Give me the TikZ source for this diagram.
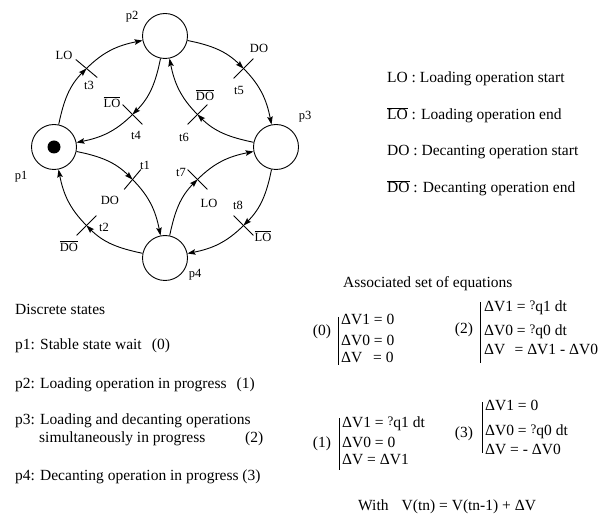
\documentclass[tikz,border=0pt]{standalone}
\usepackage{fontspec}
\setmainfont{Liberation Serif}
\usetikzlibrary{arrows.meta}
\newcommand{\ovl}[1]{$\overline{\hbox{#1}}$}
\newcommand{\qm}{{\fontsize{13}{13}\selectfont\raisebox{2pt}{?}}}
\begin{document}
\begin{tikzpicture}[x=1pt,y=1pt,
  place/.style={circle,draw,line width=0.9pt,minimum size=45pt,inner sep=0pt},
  token/.style={circle,fill=black,minimum size=13pt,inner sep=0pt},
  arc/.style={line width=0.9pt,-{Stealth[length=8pt,width=5.5pt,inset=1.5pt]}},
  bar/.style={line width=0.9pt},
  lbl/.style={inner sep=0pt,font=\fontsize{12.5}{14}\selectfont},
  txt/.style={inner sep=0pt,anchor=west,text height=0.7em,text depth=0.2em,font=\fontsize{15.5}{18}\selectfont},
  eqbar/.style={line width=0.9pt}]
\useasboundingbox (0,0) rectangle (610,-518);
% places
\node[place] (p1) at (54,-147) {};
\node[place] (p2) at (165,-36) {};
\node[place] (p3) at (276,-147) {};
\node[place] (p4) at (165,-258) {};
\node[token] (tok) at (p1) {};
% transitions
\coordinate (t3) at (86.5,-68.5);
\coordinate (t5) at (243.5,-68.5);
\coordinate (t8) at (243.5,-225.5);
\coordinate (t2) at (86.5,-225.5);
\coordinate (t4) at (132.5,-114.5);
\coordinate (t6) at (197.5,-114.5);
\coordinate (t1) at (132.5,-179.5);
\coordinate (t7) at (197.5,-179.5);
\draw[bar] ([shift={(140:14)}]t3) -- ([shift={(-40:14)}]t3);
\draw[bar] ([shift={(45:14)}]t5) -- ([shift={(225:14)}]t5);
\draw[bar] ([shift={(135:14)}]t8) -- ([shift={(-45:14)}]t8);
\draw[bar] ([shift={(45:14)}]t2) -- ([shift={(225:14)}]t2);
\draw[bar] ([shift={(135:14)}]t4) -- ([shift={(-45:14)}]t4);
\draw[bar] ([shift={(45:14)}]t6) -- ([shift={(225:14)}]t6);
\draw[bar] ([shift={(50:13)}]t1) -- ([shift={(230:13)}]t1);
\draw[bar] ([shift={(135:14)}]t7) -- ([shift={(-45:14)}]t7);
% outer arcs
\draw[arc] (p1) to[out=78.4,in=225] (t3);
\draw[arc] (t3) to[out=45,in=191.6] (p2);
\draw[arc] (p2) to[out=-11.6,in=135] (t5);
\draw[arc] (t5) to[out=-45,in=101.6] (p3);
\draw[arc] (p3) to[out=-101.6,in=45] (t8);
\draw[arc] (t8) to[out=-135,in=11.6] (p4);
\draw[arc] (p4) to[out=168.4,in=-45] (t2);
\draw[arc] (t2) to[out=135,in=281.6] (p1);
% inner arcs
\draw[arc] (p2) to[out=-101.6,in=45] (t4);
\draw[arc] (t4) to[out=-135,in=11.6] (p1);
\draw[arc] (p3) to[out=168.4,in=315] (t6);
\draw[arc] (t6) to[out=135,in=281.6] (p2);
\draw[arc] (p1) to[out=-11.6,in=135] (t1);
\draw[arc] (t1) to[out=-45,in=101.6] (p4);
\draw[arc] (p4) to[out=78.4,in=225] (t7);
\draw[arc] (t7) to[out=45,in=191.6] (p3);
% place labels
\node[lbl] (lp1) at (21,-177) {p1};
\node[lbl] (lp2) at (132,-17) {p2};
\node[lbl] (lp3) at (305,-117) {p3};
\node[lbl] (lp4) at (195,-275) {p4};
% transition labels
\node[lbl] (n3a) at (64,-55) {LO};
\node[lbl] (n3b) at (89,-85) {t3};
\node[lbl] (n5a) at (259,-48) {DO};
\node[lbl] (n5b) at (239,-90) {t5};
\node[lbl] (n4a) at (112,-102) {\ovl{LO}};
\node[lbl] (n4b) at (136,-135) {t4};
\node[lbl] (n6a) at (205,-95) {\ovl{DO}};
\node[lbl] (n6b) at (184,-137) {t6};
\node[lbl] (n1b) at (145,-165) {t1};
\node[lbl] (n1a) at (110,-200) {DO};
\node[lbl] (n7b) at (181,-172) {t7};
\node[lbl] (n7a) at (209,-203) {LO};
\node[lbl] (n2b) at (104,-227) {t2};
\node[lbl] (n2a) at (69,-246) {\ovl{DO}};
\node[lbl] (n8b) at (238,-205) {t8};
\node[lbl] (n8a) at (263,-236) {\ovl{LO}};
% legend
\node[txt] (lg1) at (387,-80) {LO : Loading operation start};
\node[txt] (lg2) at (387,-117) {\ovl{LO} : Loading operation end};
\node[txt] (lg3) at (387,-153) {DO : Decanting operation start};
\node[txt] (lg4) at (387,-190) {\ovl{DO} : Decanting operation end};
% discrete states
\node[txt] (ds0) at (15,-312) {Discrete states};
\node[txt] (ds1) at (15,-347) {p1: Stable state wait\hspace{0.4em} (0)};
\node[txt] (ds2) at (15,-386) {p2: Loading operation in progress\hspace{0.4em} (1)};
\node[txt] (ds3) at (15,-422) {p3: Loading and decanting operations};
\node[txt] (ds3b) at (39,-440) {simultaneously in progress};
\node[txt] (ds3c) at (245,-440) {(2)};
\node[txt] (ds4) at (15,-478) {p4: Decanting operation in progress (3)};
% equations
\node[txt] (eqt) at (343,-285) {Associated set of equations};
\node[txt,anchor=center] (e0) at (322,-333) {(0)};
\draw[eqbar] (338,-317) coordinate (b0a) -- (338,-365) coordinate (b0b);
\node[txt] (e0a) at (341,-322) {ΔV1 = 0};
\node[txt] (e0b) at (341,-343) {ΔV0 = 0};
\node[txt] (e0c) at (341,-360) {ΔV\hspace{0.7em}= 0};
\node[txt,anchor=center] (e2) at (464,-331) {(2)};
\draw[eqbar] (480,-302) coordinate (b2a) -- (480,-363) coordinate (b2b);
\node[txt] (e2a) at (484,-309) {ΔV1 = \qm q1 dt};
\node[txt] (e2b) at (484,-333) {ΔV0 = \qm q0 dt};
\node[txt] (e2c) at (484,-352) {ΔV\hspace{0.6em}= ΔV1 - ΔV0};
\node[txt,anchor=center] (e1) at (322,-445) {(1)};
\draw[eqbar] (339,-418) coordinate (b1a) -- (339,-470) coordinate (b1b);
\node[txt] (e1a) at (342,-425) {ΔV1 = \qm q1 dt};
\node[txt] (e1b) at (342,-445) {ΔV0 = 0};
\node[txt] (e1c) at (342,-462) {ΔV = ΔV1};
\node[txt,anchor=center] (e3) at (464,-435) {(3)};
\draw[eqbar] (482,-402) coordinate (b3a) -- (482,-453) coordinate (b3b);
\node[txt] (e3a) at (485,-408) {ΔV1 = 0};
\node[txt] (e3b) at (485,-433) {ΔV0 = \qm q0 dt};
\node[txt] (e3c) at (485,-452) {ΔV = - ΔV0};
\node[txt] (with) at (358,-508) {With\hspace{0.6em} V(tn) = V(tn-1) + ΔV};
\end{tikzpicture}
\end{document}
